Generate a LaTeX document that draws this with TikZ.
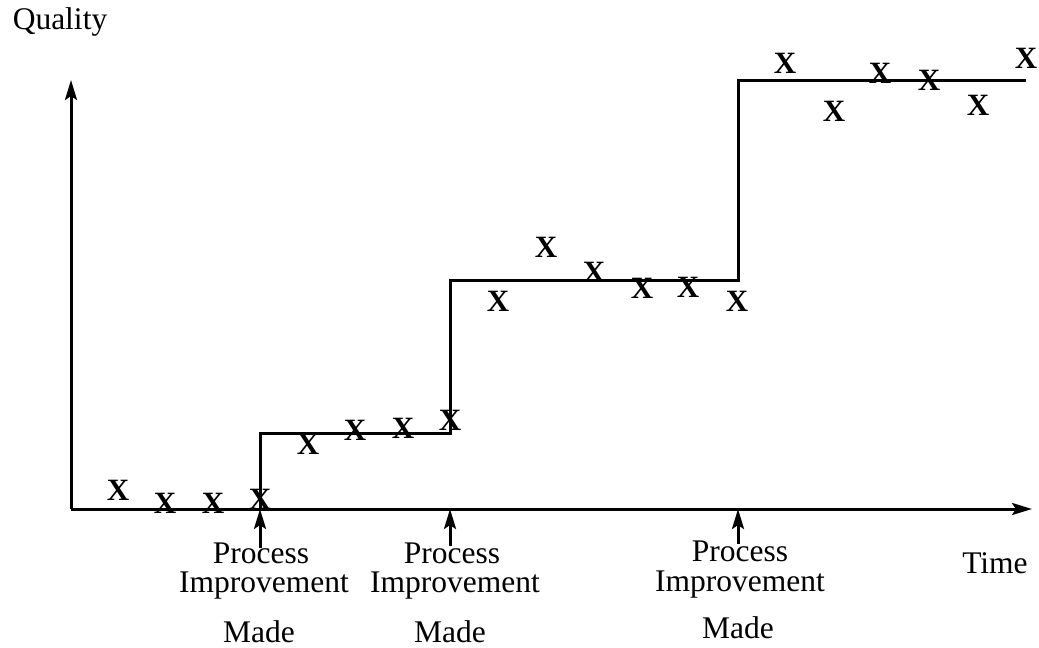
\documentclass[tikz,border=0pt]{standalone}
\usepackage{fontspec}
\setmainfont{Liberation Serif}
\usetikzlibrary{arrows.meta}
\begin{document}
\begin{tikzpicture}[x=1pt,y=-1pt,
  line/.style={line width=3pt},
  axis/.style={line width=3pt,-{Stealth[length=20pt,width=12pt,inset=4pt]}},
  xmark/.style={font=\fontsize{31}{31}\selectfont\bfseries,inner sep=0pt},
  lbl/.style={font=\fontsize{31.5}{31.5}\selectfont,inner sep=0pt}]
\useasboundingbox (0,0) rectangle (1039,648);
% axes
\coordinate (O) at (71,509);
\coordinate (Ytop) at (71,80);
\coordinate (Xend) at (1032,509);
\draw[axis] (O) -- (Ytop);
\draw[axis] (O) -- (Xend);
\node[lbl] (quality) at (60,22) {Quality};
\node[lbl] (time) at (995,563) {Time};
% step function
\coordinate (s1) at (260,509);
\coordinate (s2) at (260,433);
\coordinate (s3) at (450,433);
\coordinate (s4) at (450,280);
\coordinate (s5) at (738,280);
\coordinate (s6) at (738,80);
\coordinate (s7) at (1026,80);
\draw[line] (s1) -- (s2) -- (s3) -- (s4) -- (s5) -- (s6) -- (s7);
% improvement labels
\node[lbl] (p1) at (261,553) {Process};
\node[lbl] (i1) at (264,586) {Improvement};
\node[lbl] (m1) at (259,632) {Made};
\node[lbl] (p2) at (452,553) {Process};
\node[lbl] (i2) at (455,586) {Improvement};
\node[lbl] (m2) at (450,632) {Made};
\node[lbl] (p3) at (740,551) {Process};
\node[lbl] (i3) at (740,585) {Improvement};
\node[lbl] (m3) at (738,628) {Made};
\coordinate (a1) at (260,509);
\coordinate (a2) at (450,509);
\coordinate (a3) at (738,509);
\coordinate (b1) at (260,548);
\coordinate (b2) at (450,546);
\coordinate (b3) at (738,544);
\draw[axis] (b1) -- (a1);
\draw[axis] (b2) -- (a2);
\draw[axis] (b3) -- (a3);
% data points
\node[xmark] (x1) at (118,490) {X};
\node[xmark] (x2) at (165,503) {X};
\node[xmark] (x3) at (213,503) {X};
\node[xmark] (x4) at (260,499) {X};
\node[xmark] (x5) at (308,444) {X};
\node[xmark] (x6) at (355,430) {X};
\node[xmark] (x7) at (403,428) {X};
\node[xmark] (x8) at (450,420) {X};
\node[xmark] (x9) at (498,301) {X};
\node[xmark] (x10) at (546,247) {X};
\node[xmark] (x11) at (594,272) {X};
\node[xmark] (x12) at (642,288) {X};
\node[xmark] (x13) at (688,287) {X};
\node[xmark] (x14) at (737,301) {X};
\node[xmark] (x15) at (785,63) {X};
\node[xmark] (x16) at (834,111) {X};
\node[xmark] (x17) at (880,73) {X};
\node[xmark] (x18) at (929,80) {X};
\node[xmark] (x19) at (978,105) {X};
\node[xmark] (x20) at (1026,58) {X};
\end{tikzpicture}
\end{document}
